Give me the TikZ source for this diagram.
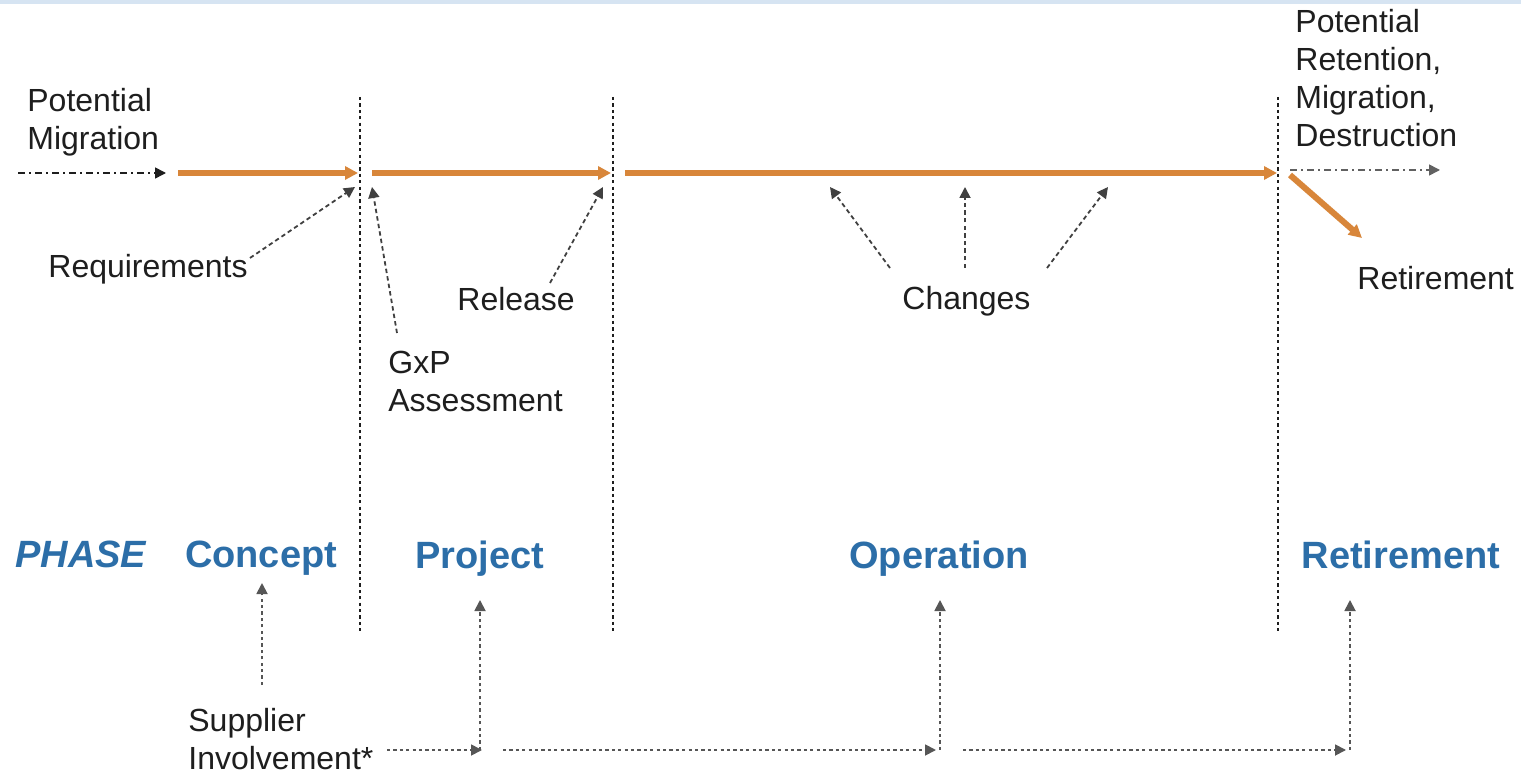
\documentclass[tikz,border=0pt]{standalone}
\usepackage{fontspec}
\setmainfont{Liberation Sans}
\usetikzlibrary{arrows.meta}
\definecolor{orng}{RGB}{216,134,58}
\definecolor{phaseblue}{RGB}{44,110,168}
\definecolor{topband}{RGB}{214,228,242}
\definecolor{dk}{RGB}{30,30,30}
\tikzset{
  lbl/.style={anchor=north west,inner sep=0pt,align=left,font=\fontsize{16}{19}\selectfont,text=dk},
  phase/.style={anchor=north,inner sep=0pt,font=\fontsize{19}{22}\selectfont\bfseries,text=phaseblue},
  sep/.style={draw=dk,line width=0.6pt,dash pattern=on 1.6pt off 1.6pt},
  flow/.style={draw=orng,line width=3pt,-{Triangle[length=6.5pt,width=6.5pt]}},
  note/.style={draw=dk!85,line width=0.9pt,dash pattern=on 2.2pt off 1.6pt,-{Triangle[length=5.5pt,width=5.5pt]}},
  dotline/.style={draw=dk!75,line width=0.9pt,dash pattern=on 1.6pt off 1.6pt,-{Triangle[length=5.5pt,width=5.5pt]}},
  dashdot/.style={draw=dk,line width=0.8pt,dash pattern=on 3.5pt off 2pt on 1pt off 2pt,-{Triangle[length=5.5pt,width=5.5pt]}}
}
\begin{document}
\begin{tikzpicture}[x=0.5pt,y=-0.5pt]
\useasboundingbox (0,0) rectangle (1521,775);
\fill[white] (0,0) rectangle (1521,775);
\fill[topband] (0,0) rectangle (1521,4);

% separators
\coordinate (s1t) at (360,97); \coordinate (s1b) at (360,632);
\coordinate (s2t) at (613,97); \coordinate (s2b) at (613,632);
\coordinate (s3t) at (1278,97); \coordinate (s3b) at (1278,632);
\draw[sep] (s1t) -- (s1b);
\draw[sep] (s2t) -- (s2b);
\draw[sep] (s3t) -- (s3b);

% labels
\node[lbl] (pm) at (27,88) {Potential\\Migration};
\node[lbl] (prm) at (1295,9) {Potential\\Retention,\\Migration,\\Destruction};
\node[lbl] (req) at (48,254) {Requirements};
\node[lbl] (gxp) at (388,351) {GxP\\Assessment};
\node[lbl] (rel) at (457,287) {Release};
\node[lbl] (chg) at (902,286) {Changes};
\node[lbl] (ret) at (1357,266) {Retirement};
\node[lbl] (sup) at (188,708) {Supplier\\Involvement*};

% phases
\node[phase,anchor=north west] (ph) at (15,541) {\itshape PHASE};
\node[phase] (pcon) at (261,541) {Concept};
\node[phase] (ppro) at (480,541) {Project};
\node[phase] (pope) at (939,541) {Operation};
\node[phase] (pret) at (1401,541) {Retirement};

% main flow
\coordinate (m0) at (18,173); \coordinate (m1) at (166,173);
\coordinate (o1a) at (178,173); \coordinate (o1b) at (358,173);
\coordinate (o2a) at (372,173); \coordinate (o2b) at (611,173);
\coordinate (o3a) at (625,173); \coordinate (o3b) at (1277,173);
\coordinate (o4a) at (1290,175); \coordinate (o4b) at (1362,238);
\coordinate (r0) at (1290,170); \coordinate (r1) at (1440,170);
\draw[dashdot] (m0) -- (m1);
\draw[flow] (o1a) -- (o1b);
\draw[flow] (o2a) -- (o2b);
\draw[flow] (o3a) -- (o3b);
\draw[flow] (o4a) -- (o4b);
\draw[dashdot,draw=dk!70] (r0) -- (r1);

% annotation arrows
\coordinate (reqs) at (250,258); \coordinate (reqt) at (355,187);
\coordinate (gxps) at (397,333); \coordinate (gxpt) at (372,187);
\coordinate (rels) at (550,283); \coordinate (relt) at (603,187);
\coordinate (c1s) at (890,268);  \coordinate (c1t) at (830,187);
\coordinate (c2s) at (965,268);  \coordinate (c2t) at (965,187);
\coordinate (c3s) at (1047,268); \coordinate (c3t) at (1108,187);
\draw[note] (reqs) -- (reqt);
\draw[note] (gxps) -- (gxpt);
\draw[note] (rels) -- (relt);
\draw[note] (c1s) -- (c1t);
\draw[note] (c2s) -- (c2t);
\draw[note] (c3s) -- (c3t);

% supplier involvement
\coordinate (cs) at (262,685);  \coordinate (ct) at (262,583);
\coordinate (h1a) at (387,750); \coordinate (h1b) at (482,750);
\coordinate (h2a) at (503,750); \coordinate (h2b) at (936,750);
\coordinate (h3a) at (963,750); \coordinate (h3b) at (1346,750);
\coordinate (k1) at (480,750);  \coordinate (k1t) at (480,600);
\coordinate (k2) at (940,750);  \coordinate (k2t) at (940,600);
\coordinate (k3) at (1350,750); \coordinate (k3t) at (1350,600);
\draw[dotline] (cs) -- (ct);
\draw[dotline] (h1a) -- (h1b);
\draw[dotline] (k1) -- (k1t);
\draw[dotline] (h2a) -- (h2b);
\draw[dotline] (k2) -- (k2t);
\draw[dotline] (h3a) -- (h3b);
\draw[dotline] (k3) -- (k3t);
\end{tikzpicture}
\end{document}
